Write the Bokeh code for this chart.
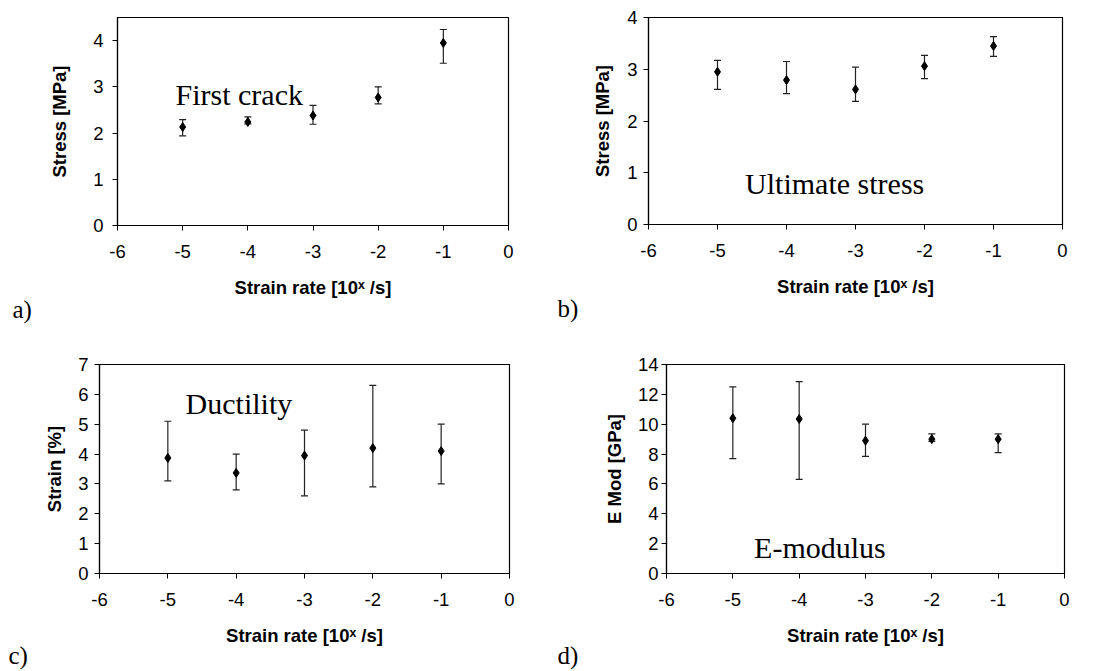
from bokeh.plotting import figure
from bokeh.layouts import column, row
from bokeh.models import (Range1d, SingleIntervalTicker, Label, ColumnDataSource,
                          CustomJSTickFormatter, Title)
from bokeh.embed import file_html
from bokeh.resources import INLINE

# ---- data ----
rates = [-5, -4, -3, -2, -1]

crack_mean = [2.13, 2.24, 2.38, 2.77, 3.95]
crack_hi = [2.29, 2.35, 2.60, 3.00, 4.24]
crack_lo = [1.94, 2.20, 2.19, 2.63, 3.51]

ult_mean = [2.95, 2.79, 2.61, 3.06, 3.45]
ult_hi = [3.17, 3.15, 3.04, 3.27, 3.63]
ult_lo = [2.61, 2.53, 2.38, 2.82, 3.25]

duct_mean = [3.87, 3.37, 3.95, 4.20, 4.10]
duct_hi = [5.10, 4.00, 4.80, 6.30, 5.00]
duct_lo = [3.10, 2.80, 2.60, 2.90, 3.00]

emod_mean = [10.40, 10.35, 8.90, 9.00, 9.00]
emod_hi = [12.50, 12.85, 10.00, 9.35, 9.35]
emod_lo = [7.70, 6.30, 7.85, 8.85, 8.10]

x_label = "Strain rate [10ˣ /s]"
SANS = "Liberation Sans"
SERIF = "Liberation Serif"


def make_panel(mean, hi, lo, ymax, yint, ylabel, note, note_x, note_y, tag,
               tag_off, tag_stand, fw, fh, bl, br, bt, bb, ystand, ylabstand):
    p = figure(frame_width=fw, frame_height=fh, min_border_left=bl,
               min_border_right=br, min_border_top=bt, min_border_bottom=bb,
               x_range=Range1d(-6, 0), y_range=Range1d(0, ymax),
               output_backend="svg", toolbar_location=None,
               background_fill_color="white", border_fill_color="white")
    p.grid.visible = False
    p.outline_line_color = "black"
    p.outline_line_alpha = 1
    p.outline_line_width = 1.2

    p.xaxis.ticker = SingleIntervalTicker(interval=1)
    p.yaxis.ticker = SingleIntervalTicker(interval=yint)
    fmt = CustomJSTickFormatter(code="return tick.toFixed(0)")
    for ax in (p.xaxis[0], p.yaxis[0]):
        ax.formatter = fmt
        ax.axis_line_color = "black"
        ax.axis_line_width = 1.2
        ax.major_tick_line_color = "black"
        ax.major_tick_in = 0
        ax.major_tick_out = 5
        ax.minor_tick_line_color = None
        ax.major_label_text_font = SANS
        ax.major_label_text_font_size = "18.5px"
        ax.major_label_text_color = "black"
        ax.axis_label_text_font = SANS
        ax.axis_label_text_font_size = "18.5px"
        ax.axis_label_text_font_style = "bold"
        ax.axis_label_text_color = "black"
    p.xaxis.axis_label = x_label
    p.xaxis.major_label_standoff = 14
    p.xaxis.axis_label_standoff = 16
    p.yaxis.axis_label = ylabel
    p.yaxis.major_label_standoff = ystand
    p.yaxis.axis_label_standoff = ylabstand

    src = ColumnDataSource(dict(x=rates, m=mean, hi=hi, lo=lo))
    p.segment(x0="x", y0="lo", x1="x", y1="hi", source=src,
              line_color="#222222", line_width=1.2)
    p.scatter(x="x", y="hi", source=src, marker="dash", size=7,
              line_color="#222222", line_width=1.2)
    p.scatter(x="x", y="lo", source=src, marker="dash", size=7,
              line_color="#222222", line_width=1.2)
    p.scatter(x="x", y="m", source=src, marker="diamond", size=9,
              fill_color="black", line_color="black")

    p.add_layout(Label(x=note_x, y=note_y, text=note, text_font=SERIF,
                       text_font_size="30px", text_color="black",
                       text_align="left", text_baseline="alphabetic"))
    # panel tag, as a title below the x axis shifted to the left
    p.add_layout(Title(text=tag, align="left", offset=tag_off,
                       standoff=tag_stand,
                       text_font=SERIF, text_font_size="25px",
                       text_font_style="normal", text_color="black"), "below")
    return p


pa = make_panel(crack_mean, crack_hi, crack_lo, 4.5, 1, "Stress [MPa]",
                "First crack", -5.11, 2.84, "a)", -105, -14,
                391, 208, 117, 42, 17, 105, 9, 20)
pb = make_panel(ult_mean, ult_hi, ult_lo, 4, 1, "Stress [MPa]",
                "Ultimate stress", -4.60, 0.80, "b)", -91, -13,
                414, 207, 98, 37, 17, 106, 6, 11)
pc = make_panel(duct_mean, duct_hi, duct_lo, 7, 1, "Strain [%]",
                "Ductility", -4.74, 5.71, "c)", -91, -17,
                410, 209, 99, 41, 34, 98, 6, 10)
pd = make_panel(emod_mean, emod_hi, emod_lo, 14, 2, "E Mod [GPa]",
                "E-modulus", -4.68, 1.74, "d)", -109, -17,
                398, 209, 116, 35, 34, 98, 3, 10)

layout = column(row(pa, pb), row(pc, pd))
open("out.html", "w").write(file_html(layout, INLINE))
